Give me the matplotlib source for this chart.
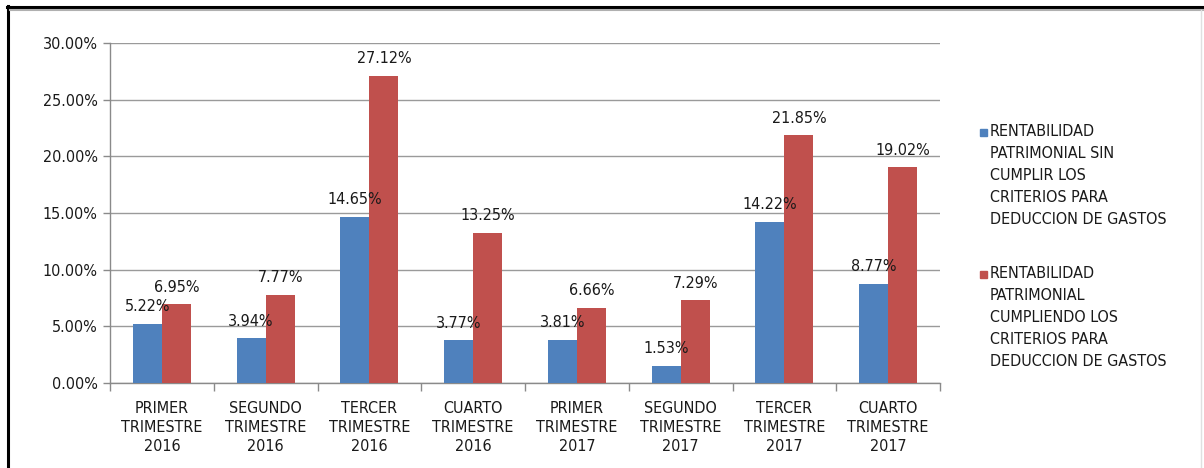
import matplotlib
matplotlib.use("Agg")
import matplotlib.pyplot as plt
from matplotlib.patches import Rectangle
from matplotlib.lines import Line2D
import numpy as np

plt.rcParams['font.family'] = ['DejaVu Sans']
plt.rcParams['font.stretch'] = 'condensed'

categories = ["PRIMER\nTRIMESTRE\n2016", "SEGUNDO\nTRIMESTRE\n2016", "TERCER\nTRIMESTRE\n2016",
              "CUARTO\nTRIMESTRE\n2016", "PRIMER\nTRIMESTRE\n2017", "SEGUNDO\nTRIMESTRE\n2017",
              "TERCER\nTRIMESTRE\n2017", "CUARTO\nTRIMESTRE\n2017"]
sin_cumplir = [5.22, 3.94, 14.65, 3.77, 3.81, 1.53, 14.22, 8.77]
cumpliendo = [6.95, 7.77, 27.12, 13.25, 6.66, 7.29, 21.85, 19.02]
series_names = ["RENTABILIDAD\nPATRIMONIAL SIN\nCUMPLIR LOS\nCRITERIOS PARA\nDEDUCCION DE GASTOS",
                "RENTABILIDAD\nPATRIMONIAL\nCUMPLIENDO LOS\nCRITERIOS PARA\nDEDUCCION DE GASTOS"]
colors = ["#4F81BD", "#C0504D"]
yticks = [0, 5, 10, 15, 20, 25, 30]

FS = 11.5
TXT = '#1a1a1a'
W, H = 1204, 468
fig = plt.figure(figsize=(W / 100, H / 100), dpi=100)
ax = fig.add_axes([110 / W, 1 - 383 / H, (940 - 110) / W, (383 - 43) / H])

x = np.arange(len(categories))
bw = 0.28
b1 = ax.bar(x - bw / 2, sin_cumplir, bw, color=colors[0], zorder=3)
b2 = ax.bar(x + bw / 2, cumpliendo, bw, color=colors[1], zorder=3)
for bars, vals in ((b1, sin_cumplir), (b2, cumpliendo)):
    for r, v in zip(bars, vals):
        ax.annotate(f"{v:.2f}%", (r.get_x() + r.get_width() / 2, v), xytext=(0, 7),
                    textcoords='offset points', ha='center', va='bottom',
                    fontsize=FS, color=TXT, zorder=4)

ax.set_xlim(-0.5, len(categories) - 0.5)
ax.set_ylim(0, 30)
ax.set_yticks(yticks)
ax.set_yticklabels([f"{v:.2f}%" for v in yticks], fontsize=FS, color=TXT)
ax.yaxis.grid(True, color='#9a9a9a', linewidth=1, zorder=0)
ax.set_axisbelow(True)
ax.set_xticks(x)
ax.set_xticklabels(categories, fontsize=FS, color=TXT, linespacing=1.32)
ax.tick_params(axis='x', length=0, pad=13)
ax.set_xticks(np.arange(-0.5, len(categories), 1), minor=True)
ax.tick_params(axis='x', which='minor', length=6, color='#8a8a8a', width=1)
ax.tick_params(axis='y', length=5, color='#8a8a8a', width=1, pad=4)
for s in ['top', 'right']:
    ax.spines[s].set_visible(False)
for s in ['left', 'bottom']:
    ax.spines[s].set_color('#8a8a8a')
    ax.spines[s].set_linewidth(1)

# legend (manual, markers aligned with first line)
leg_top = [124, 266]
for c, name, ytop in zip(colors, series_names, leg_top):
    fig.add_artist(Rectangle((980 / W, 1 - (ytop + 12) / H), 7 / W, 7 / H, color=c,
                             transform=fig.transFigure))
    fig.text(990 / W, 1 - ytop / H, name, ha='left', va='top', fontsize=FS, color=TXT,
             linespacing=1.59)

# frame lines
fig.add_artist(Line2D([8 / W, 8 / W], [0, 1 - 6 / H], color='black', linewidth=2.2, transform=fig.transFigure))
fig.add_artist(Line2D([7 / W, 1], [1 - 7 / H, 1 - 7 / H], color='black', linewidth=2.2, transform=fig.transFigure))
fig.add_artist(Line2D([10 / W, 1], [1 - 9.5 / H, 1 - 9.5 / H], color='#b0b0b0', linewidth=1.5, transform=fig.transFigure))
fig.add_artist(Line2D([1201 / W, 1201 / W], [0, 1 - 10 / H], color='#e0e0e0', linewidth=1, transform=fig.transFigure))

fig.savefig("out.png", dpi=100, facecolor='white')
